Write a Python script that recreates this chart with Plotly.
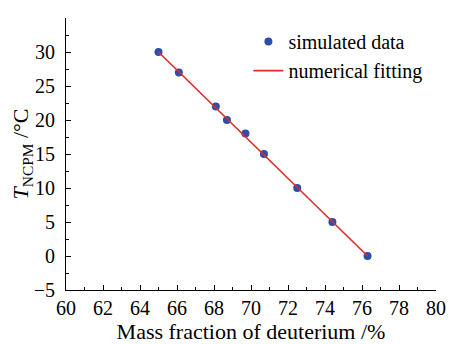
import plotly.graph_objects as go

mass_fraction = [65.0, 66.1, 68.1, 68.7, 69.7, 70.7, 72.5, 74.4, 76.3]
temperature = [30, 27, 22, 20, 18, 15, 10, 5, 0]
fit_x = [65.0, 76.3]
fit_y = [30.0, 0.0]
x_ticks = [60, 62, 64, 66, 68, 70, 72, 74, 76, 78, 80]
y_ticks = [-5, 0, 5, 10, 15, 20, 25, 30, 35]

FONT = "Liberation Serif"

fig = go.Figure()
fig.add_trace(go.Scatter(x=mass_fraction, y=temperature, mode="markers",
                         name="simulated data",
                         marker=dict(color="#2b4fa8", size=8)))
fig.add_trace(go.Scatter(x=fit_x, y=fit_y, mode="lines", name="numerical fitting",
                         line=dict(color="#e02a2a", width=1.6)))

fig.update_xaxes(range=[60, 80], tickmode="array", tickvals=x_ticks,
                 showgrid=False, zeroline=False, showline=True, linecolor="black",
                 linewidth=1, ticks="inside", ticklen=5, tickcolor="black",
                 tickfont=dict(family=FONT, size=20, color="black"),
                 minor=dict(ticks="inside", ticklen=3, dtick=1, tickcolor="black"),
                 title=dict(text="Mass fraction of deuterium /%", standoff=0,
                            font=dict(family=FONT, size=22, color="black")))
fig.update_yaxes(range=[-5, 35.0001], tickmode="array", tickvals=y_ticks,
                 showgrid=False, zeroline=False, showline=True, linecolor="black",
                 linewidth=1, ticks="inside", ticklen=5, tickcolor="black",
                 ticklabelstandoff=6,
                 tickfont=dict(family=FONT, size=20, color="black"),
                 minor=dict(ticks="inside", ticklen=3, dtick=2.5, tickcolor="black"),
                 title=dict(text="<i>T</i><sub>NCPM</sub> /°C", standoff=0,
                            font=dict(family=FONT, size=22, color="black")))

# page body has an 8px margin, so the figure is drawn 8px smaller and offset
fig.update_layout(width=448, height=336, plot_bgcolor="white", paper_bgcolor="white",
                  font=dict(family=FONT, size=20, color="black"),
                  margin=dict(l=55, r=11, t=10, b=49),
                  showlegend=True,
                  legend=dict(x=0.493, y=0.985, xanchor="left", yanchor="top",
                              bgcolor="rgba(0,0,0,0)", tracegroupgap=0,
                              font=dict(family=FONT, size=20, color="black"),
                              itemwidth=30))

fig.write_html("out.html")
